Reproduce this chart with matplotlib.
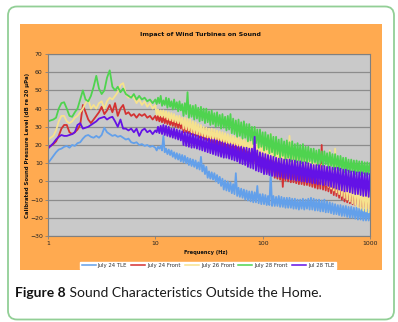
import numpy as np
import matplotlib
matplotlib.use("Agg")
import matplotlib.pyplot as plt
from matplotlib.patches import FancyBboxPatch, Rectangle
from matplotlib.lines import Line2D

# ---------------- data (levels, dB re 20 uPa) ----------------
# reading positions: 1-10 Hz every 0.025 decade, 10-1000 Hz every 0.0125 decade
freq_low = 10 ** (np.arange(41) * 0.025)
freq_high = 10 ** (1 + np.arange(1, 161) * 0.0125)
freq_hz = np.concatenate([freq_low, freq_high])

july24_tle_low = [
    10, 12, 14, 16, 17.5, 18, 19, 19.5, 18.5, 20,
    19.5, 21, 21.5, 23.5, 25, 25.5, 24.5, 24, 25, 24,
    25.5, 29.5, 27, 26, 25, 25.5, 24.5, 25, 24, 23,
    23.5, 21.5, 21, 21.5, 20, 20.5, 19.5, 20, 19, 19.5,
    18.5]
july24_tle_high = [
    17, 19, 18, 19.5, 17, 25, 16, 18, 15, 17.5,
    14.5, 17, 13.5, 16, 12.5, 15.5, 12, 15, 11, 14.5,
    10.5, 14, 10, 13, 9, 12.5, 8.5, 12, 8, 11.5,
    7, 10.5, 6.5, 13.5, 5.5, 9, 4, 8, 2, 5.5,
    1.5, 5, 1, 4.5, 0, 3.5, -1, 2.5, -2.5, 1.5,
    -4.5, 0.5, -5, 0, -5.5, -0.5, -6.5, -1.5, -7, 4.5,
    -8, -3.5, -8.5, -4, -9, -4.5, -10, -5, -10.5, -5.5,
    -11, -5.5, -11.5, -6, -11.5, -2.5, -12, -7, -12.5, -7,
    -12.5, -7.5, -13, -8, -13, 5, -13.5, -8, -13.5, -8.5,
    -13.5, -8, -14, -8.5, -14, -9, -14.5, -9, -14.5, -9,
    -14.5, -9.5, -15, -9.5, -15, -10, -15.5, -10, -15, -9.5,
    -15.5, -10, -15, -9.5, -15.5, -9, -15.5, -9.5, -16, -10,
    -16, -10, -16.5, -10.5, -16.5, -10, -17, -11, -17, -11.5,
    -17.5, -12, -18, -12.5, -18, -13, -18.5, -13, -19, -13.5,
    -19, -13.5, -19.5, -14, -20, -14, -20, -14.5, -20.5, -14.5,
    -21, -15, -21, -15, -21.5, -15.5, -21.5, -15.5, -21.5, -16]

july24_front_low = [
    19, 19.5, 20.5, 22, 25, 29, 31, 31, 27, 26,
    27, 28.5, 31, 42, 38, 34, 32, 34, 36, 38,
    41, 37, 39, 42, 38, 43, 36, 40, 42, 37,
    38, 36, 37, 35, 37, 36, 37, 35, 36, 34,
    36]
july24_front_high = [
    33.5, 36, 33, 35.5, 32.5, 35.5, 32, 35, 31.5, 35,
    31, 34, 30.5, 34, 30, 33.5, 29.5, 33.5, 29, 33,
    27, 32.5, 27, 32, 26.5, 32, 26, 31, 25.5, 30.5,
    25, 30, 24, 29.5, 24, 29, 23, 28.5, 22.5, 28,
    21.5, 27.5, 21, 27, 20, 26.5, 19, 25, 18.5, 24,
    17.5, 23, 17.5, 22.5, 17, 22.5, 16, 21.5, 15, 21,
    14.5, 20.5, 13.5, 19.5, 13, 19, 12, 18.5, 11.5, 18,
    10.5, 17, 10, 16.5, 9, 16, 8, 15.5, 7, 15,
    6, 14.5, 5, 14, 4.5, 13.5, 4, 13, 2, 12,
    1.5, 11.5, 1, 11, -3, 10, 0.5, 9.5, 0, 9,
    -0.5, 8.5, -0.5, 8, -1, 7.5, -1.5, 7, -1.5, 6.5,
    -2, 6, -2, 6, -2.5, 5.5, -3, 5, -3.5, 5,
    -4, 4.5, -4, 20, -4.5, 4, -5, 3.5, -5.5, 3,
    -6.5, 2.5, -7.5, 2, -8, 1.5, -9, 1, -10, 0.5,
    -11, 0, -11.5, -0.5, -12, -1, -12.5, -1.5, -13, -2,
    -13.5, -2.5, -14, -3, -14.5, -3.5, -15, -4, -15, -5]

july26_front_low = [
    23, 24, 25, 28, 33, 36, 36, 33, 32, 33,
    35, 36, 38, 40, 43, 45, 40, 42, 40, 43,
    44, 40, 44, 46, 45, 47, 49, 53, 54, 48,
    46, 47, 46, 43, 45, 42, 44, 41, 43, 40,
    42]
july26_front_high = [
    36.5, 39.5, 36, 39, 35.5, 39, 35, 38.5, 34, 38,
    33.5, 37.5, 33, 37, 32.5, 36, 32, 36, 31.5, 35,
    29, 35, 28.5, 34.5, 28, 34, 27, 33, 26.5, 32.5,
    26, 31.5, 25.5, 31, 25, 30, 24.5, 29.5, 24, 29,
    23.5, 29, 23, 28.5, 23, 28, 22.5, 27.5, 22, 27,
    21.5, 26.5, 21, 26, 20.5, 25.5, 20, 25, 20, 24.5,
    19.5, 24, 19, 23.5, 18.5, 23, 18, 22.5, 17, 22,
    16.5, 22, 16, 21, 15, 20.5, 14.5, 20, 14, 19.5,
    13.5, 19, 13, 18.5, 12.5, 26, 12, 18, 11.5, 17.5,
    11, 17, 10.5, 16.5, 10, 16, 9.5, 15.5, 9, 25,
    8.5, 14.5, 8, 14, 7.5, 13.5, 7, 13, 6, 12.5,
    5.5, 12, 4.5, 11.5, 3.5, 11, 2.5, 10.5, 1.5, 10,
    1, 9.5, 0, 9, -1, 8.5, -2, 8, -3, 17,
    -4, 7, -5, 18, -6, 6, -7, 5.5, -8, 5,
    -9, 4.5, -10, 4, -11, 3.5, -12, 3, -13, 2.5,
    -14, 2, -15, 1.5, -16, 1, -16.5, 0.5, -17, 0]

july28_front_low = [
    33, 33.5, 34, 35, 40, 43, 43.5, 40, 36, 35.5,
    38, 40, 45, 50, 45, 44, 47, 52, 58, 51,
    48, 50, 57, 61, 52, 50, 52, 49, 51, 48,
    47, 46, 48, 45, 47, 45, 46, 44, 45, 43,
    45]
july28_front_high = [
    42.5, 46, 43, 47, 41.5, 44.5, 42, 46, 40.5, 45.5,
    41, 44, 39.5, 45, 40, 43.5, 38.5, 44, 39, 42.5,
    36, 43, 37, 49, 35, 42, 35.5, 41.5, 34, 42,
    34.5, 40.5, 33, 41, 33.5, 40, 32, 40, 32.5, 38.5,
    31, 39, 31.5, 37.5, 30, 38, 30.5, 36.5, 29, 37,
    29.5, 35.5, 28, 36, 28.5, 37, 26.5, 34.5, 26, 33.5,
    24.5, 34, 25, 32.5, 23.5, 33, 24, 31.5, 22, 31.5,
    22.5, 30, 20.5, 30, 21, 28.5, 18.5, 28.5, 19, 27,
    17, 27, 17.5, 25.5, 15.5, 26, 16, 24.5, 14, 24.5,
    15, 23, 13, 23.5, 14, 22, 12, 22.5, 13, 21.5,
    11, 22, 12, 20.5, 10.5, 21, 11.5, 20, 10, 20.5,
    11, 19, 10, 19, 11, 18, 10, 18, 10.5, 17,
    9, 17.5, 10, 16.5, 8.5, 16.5, 9.5, 15.5, 7.5, 16,
    8.5, 15, 6.5, 15, 7.5, 14, 6, 14, 7, 13,
    5, 13, 6, 12, 5, 12, 5.5, 11.5, 4, 11.5,
    5, 11, 3.5, 11, 4.5, 10.5, 3, 10.5, 4, 10]

jul28_tle_low = [
    18, 19.5, 21, 23, 24.5, 25.5, 25, 25, 25.5, 26,
    27, 31, 32, 29, 29.5, 30, 31, 32, 33, 34.5,
    35, 35.5, 34, 35, 35.5, 33, 30, 34, 29, 29,
    28, 29, 27, 29, 25, 28, 29, 27, 28, 26,
    28]
jul28_tle_high = [
    27, 30, 26.5, 30.5, 26, 31, 25.5, 30.5, 25, 30,
    24.5, 29, 24, 29, 23.5, 28.5, 23, 28, 22.5, 27.5,
    20, 27, 19.5, 27, 19, 26.5, 18.5, 26, 18.5, 25.5,
    18, 25, 17.5, 24.5, 17, 24, 16.5, 23.5, 16, 23.5,
    15.5, 23, 15, 23, 14.5, 22.5, 14, 22, 13.5, 21.5,
    13, 21, 13, 20.5, 12.5, 20.5, 12, 20, 11.5, 19.5,
    11, 19, 10, 19, 9.5, 18.5, 9, 18.5, 8, 18,
    7.5, 18, 7, 24.5, 6, 17, 5.5, 16, 5, 15.5,
    4, 15, 4, 14.5, 3.5, 14, 3, 13.5, 3, 13,
    2.5, 12.5, 2.5, 12.5, 2, 12, 1.5, 12, 1.5, 12,
    1, 11.5, 1, 11.5, 0.5, 11, 0.5, 11, 0, 10.5,
    0, 10.5, -0.5, 10, -0.5, 9.5, -1, 9, -1, 9,
    -1.5, 9, -1.5, 8.5, -2, 8.5, -2, 8, -2.5, 8,
    -3, 7.5, -3.5, 7.5, -4, 7.5, -4.5, 7, -5, 6.5,
    -5.5, 6.5, -5.5, 6, -6, 5.5, -6.5, 5.5, -7, 5,
    -7, 5, -7.5, 5, -8, 4.5, -8, 4.5, -8.5, 4]

series_names = ["July 24 TLE", "July 24 Front", "July 26 Front", "July 28 Front", "Jul 28 TLE"]
series_values = [july24_tle_low + july24_tle_high,
                 july24_front_low + july24_front_high,
                 july26_front_low + july26_front_high,
                 july28_front_low + july28_front_high,
                 jul28_tle_low + jul28_tle_high]
series_colors = ["#63A0EA", "#D43232", "#F6E28E", "#4FD34F", "#6412E6"]

x_ticks = [1, 10, 100, 1000]
x_tick_labels = ["1", "10", "100", "1000"]
y_ticks = list(range(-30, 71, 10))

title = "Impact of Wind Turbines on Sound"
x_label = "Frequency (Hz)"
y_label = "Calibrated Sound Pressure Level (dB re 20 \u03bcPa)"
caption_bold = "Figure 8"
caption_rest = " Sound Characteristics Outside the Home."

# ---------------- layout ----------------
W, H = 398, 322
fig = plt.figure(figsize=(W / 100, H / 100), dpi=100)
fig.patch.set_facecolor("white")

bg = fig.add_axes([0, 0, 1, 1])
bg.set_xlim(0, W)
bg.set_ylim(H, 0)
bg.axis("off")
bg.add_patch(FancyBboxPatch((8, 6.5), 386, 313, boxstyle="round,pad=0,rounding_size=9",
                            fc="white", ec="#92cf96", lw=1.3))
bg.add_patch(Rectangle((20, 24), 362, 246, fc="#FFAA50", ec="none"))

bg.text(200, 34, title, ha="center", va="center", fontsize=4.5, fontweight="bold", color="#111111")
bg.text(206, 252, x_label, ha="center", va="center", fontsize=3.7, fontweight="bold", color="#111111")
bg.text(27.5, 145, y_label, ha="center", va="center", rotation=90, fontsize=3.9,
        fontweight="bold", color="#111111")

ax = fig.add_axes([48 / W, 1 - 236 / H, 322 / W, 182 / H])
ax.set_facecolor("#C9C9C9")
for name, vals, col in zip(series_names, series_values, series_colors):
    ax.plot(freq_hz, vals, color=col, lw=1.3, label=name)

ax.set_xscale("log")
ax.set_xlim(1, 1000)
ax.set_ylim(-30, 70)
ax.set_xticks(x_ticks)
ax.set_xticklabels(x_tick_labels)
ax.xaxis.set_minor_locator(matplotlib.ticker.NullLocator())
ax.set_yticks(y_ticks)
ax.yaxis.grid(True, color="#8C8C8C", lw=0.9)
ax.set_axisbelow(True)
for s in ax.spines.values():
    s.set_color("#808080")
    s.set_linewidth(0.8)
ax.tick_params(labelsize=4.4, length=2, width=0.6, color="#808080", pad=1.8, labelcolor="#222222")

handles = [Line2D([], [], color=c, lw=1.1) for c in series_colors]
leg = fig.legend(handles, series_names, loc="center", bbox_to_anchor=(208 / W, 1 - 265.5 / H),
                 ncol=5, fontsize=3.9, frameon=True, fancybox=False, edgecolor="white",
                 framealpha=1, handlelength=2.6, columnspacing=0.7, handletextpad=0.4,
                 borderpad=0.2, borderaxespad=0)
for t in leg.get_texts():
    t.set_color("#333333")

# caption
t1 = bg.text(15, 293, caption_bold, ha="left", va="center", fontsize=10,
             fontweight="bold", family="Lato", color="#111111")
fig.canvas.draw()
bb = t1.get_window_extent(fig.canvas.get_renderer())
bg.text(bb.x1, 293, caption_rest, ha="left", va="center", fontsize=10,
        family="Lato", color="#1a1a1a")

fig.savefig("out.png", dpi=100, facecolor="white")
